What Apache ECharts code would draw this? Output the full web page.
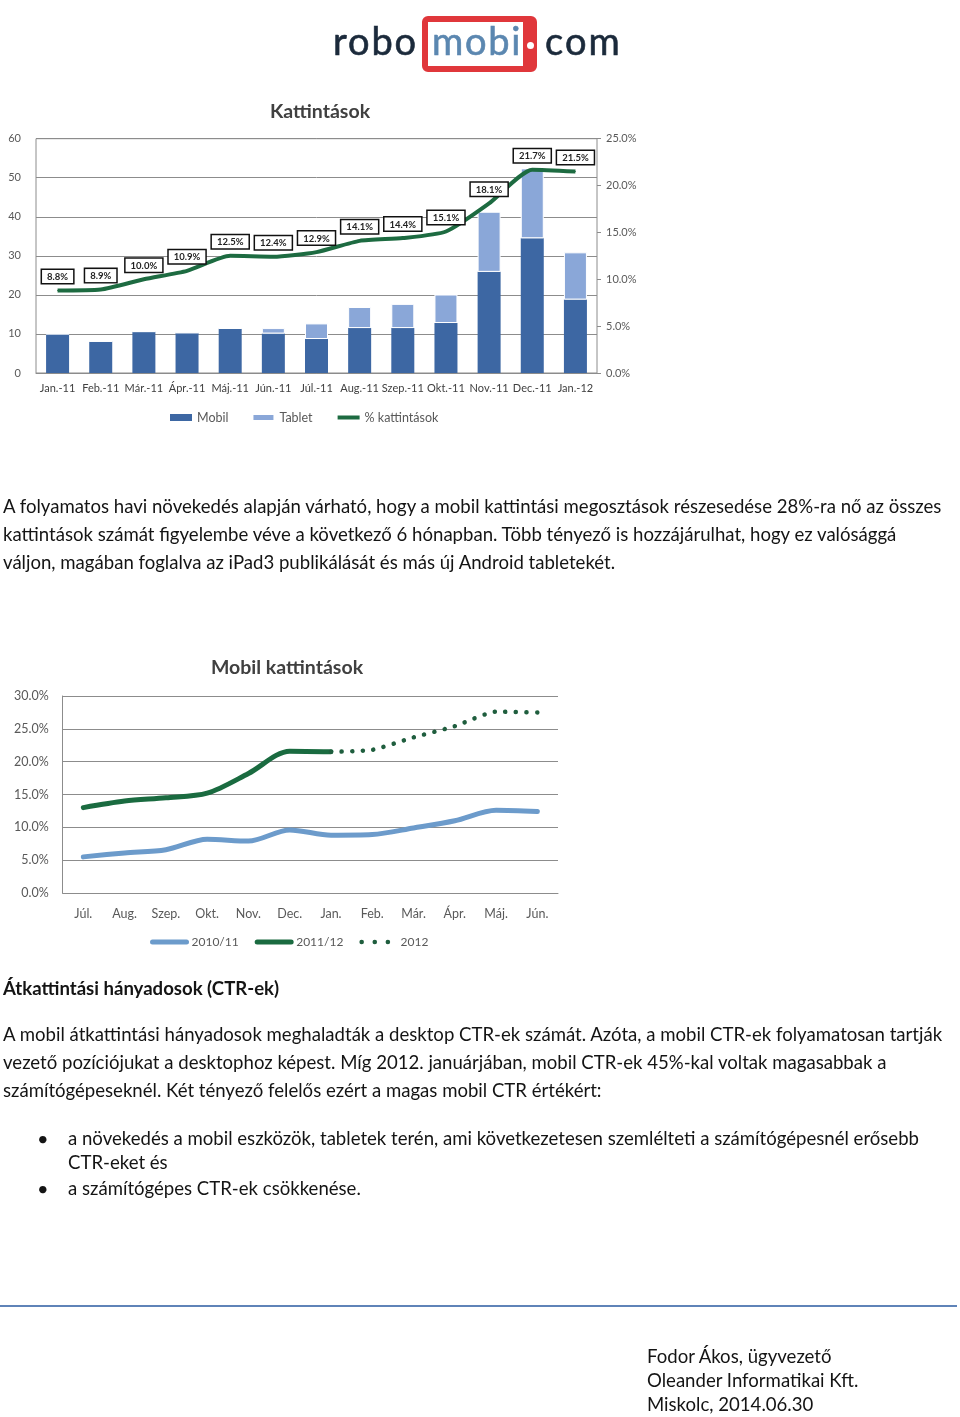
<!DOCTYPE html>
<html><head><meta charset="utf-8">
<script src="https://cdn.jsdelivr.net/npm/echarts@6/dist/echarts.min.js"></script>
<style>
body{margin:0;background:#fff;}
#page{position:relative;width:960px;height:1417px;overflow:hidden;background:#fff;font-family:Lato,'Open Sans',sans-serif;}
#chart{position:absolute;left:0;top:0;width:960px;height:1417px;}
.t{position:absolute;white-space:pre;color:#141414;line-height:24px;height:24px;}
.logo{position:absolute;white-space:pre;font-family:Lato,sans-serif;font-size:38px;line-height:38px;-webkit-text-stroke:0.6px currentColor;}
</style></head>
<body><div id="page"><div id="chart"></div></div>
<script>
// ---- Chart 1: Kattintások ----
const months1 = ['Jan.-11','Feb.-11','Már.-11','Ápr.-11','Máj.-11','Jún.-11','Júl.-11','Aug.-11','Szep.-11','Okt.-11','Nov.-11','Dec.-11','Jan.-12'];
const mobilClicks = [10.0, 8.1, 10.6, 10.3, 11.4, 10.1, 8.7, 11.5, 11.5, 12.8, 25.9, 34.5, 18.8];
const tabletClicks = [0, 0, 0, 0, 0, 1.4, 4.0, 5.4, 6.2, 7.3, 15.4, 17.9, 12.1];
const clickSharePct = [8.8, 8.9, 10.0, 10.9, 12.5, 12.4, 12.9, 14.1, 14.4, 15.1, 18.1, 21.7, 21.5];

// ---- Chart 2: Mobil kattintások ----
const months2 = ['Júl.','Aug.','Szep.','Okt.','Nov.','Dec.','Jan.','Feb.','Már.','Ápr.','Máj.','Jún.'];
const share1011 = [5.5, 6.1, 6.6, 8.2, 7.9, 9.6, 8.8, 8.9, 9.9, 11.0, 12.6, 12.4];
const share1112 = [13.0, 14.0, 14.5, 15.2, 18.2, 21.6, 21.5, null, null, null, null, null];
const share2012 = [null, null, null, null, null, null, 21.5, 21.8, 23.7, 25.4, 27.6, 27.5];

// ---- page text ----
const para1 = [
 'A folyamatos havi növekedés alapján várható, hogy a mobil kattintási megosztások részesedése 28%-ra nő az összes',
 'kattintások számát figyelembe véve a következő 6 hónapban. Több tényező is hozzájárulhat, hogy ez valósággá',
 'váljon, magában foglalva az iPad3 publikálását és más új Android tabletekét.'
];
const heading = 'Átkattintási hányadosok (CTR-ek)';
const para2 = [
 'A mobil átkattintási hányadosok meghaladták a desktop CTR-ek számát. Azóta, a mobil CTR-ek folyamatosan tartják',
 'vezető pozíciójukat a desktophoz képest. Míg 2012. januárjában, mobil CTR-ek 45%-kal voltak magasabbak a',
 'számítógépeseknél. Két tényező felelős ezért a magas mobil CTR értékért:'
];
const bullet1 = ['a növekedés a mobil eszközök, tabletek terén, ami következetesen szemlélteti a számítógépesnél erősebb', 'CTR-eket és'];
const bullet2 = 'a számítógépes CTR-ek csökkenése.';
const signature = ['Fodor Ákos, ügyvezető', 'Oleander Informatikai Kft.', 'Miskolc, 2014.06.30'];

const page = document.getElementById('page');
const ctx = document.createElement('canvas').getContext('2d');
ctx.font = '100px Lato';
const fs = 941 / ctx.measureText(para1[0]).width * 100;

function line(text, x, cy, opts) {
  opts = opts || {};
  const d = document.createElement('div');
  d.className = 't';
  d.textContent = text;
  d.style.left = x + 'px';
  d.style.top = (cy - 12) + 'px';
  d.style.fontSize = (opts.size || fs) + 'px';
  if (opts.bold) d.style.fontWeight = 'bold';
  page.appendChild(d);
  return d;
}
para1.forEach((s, i) => line(s, 3, 506 + i * 28));
line(heading, 3, 988, {bold: true});
para2.forEach((s, i) => line(s, 3, 1034 + i * 28));
line('•', 37, 1138, {size: 20});
line('•', 37, 1188, {size: 20});
line(bullet1[0], 68, 1138);
line(bullet1[1], 68, 1162);
line(bullet2, 68, 1188);
signature.forEach((s, i) => line(s, 647, 1356 + i * 24));

const hr = document.createElement('div');
hr.style.cssText = 'position:absolute;left:0;top:1305px;width:957px;height:2px;background:#5f83b8;';
page.appendChild(hr);

// ---- logo ----
const box = document.createElement('div');
box.style.cssText = 'position:absolute;left:422px;top:16px;width:115px;height:56px;box-sizing:border-box;border:6px solid #e0373b;border-right-width:14px;border-radius:6px;';
page.appendChild(box);
const dot = document.createElement('div');
dot.style.cssText = 'position:absolute;left:527px;top:42px;width:7px;height:7px;border-radius:50%;background:#fff;';
page.appendChild(dot);
function logoWord(text, x, w, color) {
  const d = document.createElement('div');
  d.className = 'logo';
  d.textContent = text;
  d.style.left = x + 'px';
  d.style.top = (55 - 0.887 * 38) + 'px';
  d.style.color = color;
  ctx.font = '38px Lato';
  const nat = ctx.measureText(text).width;
  d.style.letterSpacing = ((w - nat) / text.length) + 'px';
  page.appendChild(d);
}
logoWord('robo', 333, 85, '#1b2a3b');
logoWord('mobi', 432, 90, '#5b87b0');
logoWord('com', 545, 77, '#1b2a3b');

// ---- charts ----
const grey = '#8c8c8c';
const txt = '#595959';
const pct1 = v => v.toFixed(1) + '%';
const chart = echarts.init(document.getElementById('chart'), null, {renderer: 'canvas'});
chart.setOption({
  animation: false,
  textStyle: {fontFamily: 'Lato'},
  title: [
    {text: 'Kattintások', left: 315, top: 97, textAlign: 'center',
     textStyle: {fontSize: 19.5, fontWeight: 'bold', color: '#404040', fontFamily: 'Lato'}},
    {text: 'Mobil kattintások', left: 282, top: 653, textAlign: 'center',
     textStyle: {fontSize: 19.5, fontWeight: 'bold', color: '#404040', fontFamily: 'Lato'}}
  ],
  legend: [
    {data: [{name: 'Mobil', icon: 'rect'}, {name: 'Tablet', icon: 'rect'},
            {name: '% kattintások', itemStyle: {opacity: 0}, lineStyle: {width: 4}}],
     left: 165, top: 406, itemWidth: 22, itemHeight: 7, itemGap: 23,
     textStyle: {fontSize: 12.5, color: txt, fontFamily: 'Lato'}},
    {data: [{name: '2010/11', itemStyle: {opacity: 0}, lineStyle: {width: 5}},
            {name: '2011/12', itemStyle: {opacity: 0}, lineStyle: {width: 5}},
            {name: '2012', itemStyle: {opacity: 0}, lineStyle: {width: 4.5, type: [0.1, 13], cap: 'round'}}],
     left: 145, top: 931, itemWidth: 34, itemHeight: 8, itemGap: 16,
     textStyle: {fontSize: 12, color: txt, fontFamily: 'Lato'}}
  ],
  grid: [
    {left: 36, top: 138.7, width: 561, height: 234.3, show: true, borderColor: grey, borderWidth: 1},
    {left: 62.7, top: 696, width: 495.3, height: 197}
  ],
  xAxis: [
    {gridIndex: 0, type: 'category', data: months1,
     axisLine: {show: true, lineStyle: {color: grey}}, axisTick: {show: false},
     axisLabel: {color: '#404040', fontSize: 11, margin: 10, interval: 0}},
    {gridIndex: 1, type: 'category', data: months2,
     axisLine: {show: true, lineStyle: {color: grey}}, axisTick: {show: false},
     axisLabel: {color: txt, fontSize: 12.5, margin: 14, interval: 0}}
  ],
  yAxis: [
    {gridIndex: 0, type: 'value', min: 0, max: 60, interval: 10, position: 'left',
     axisLine: {show: false}, axisTick: {show: false},
     splitLine: {lineStyle: {color: grey}},
     axisLabel: {color: txt, fontSize: 11, margin: 15}},
    {gridIndex: 0, type: 'value', min: 0, max: 25, interval: 5, position: 'right',
     axisLine: {show: false}, axisTick: {show: true, length: 4, lineStyle: {color: grey}},
     splitLine: {show: false},
     axisLabel: {color: txt, fontSize: 11, margin: 9, formatter: pct1}},
    {gridIndex: 1, type: 'value', min: 0, max: 30, interval: 5,
     axisLine: {show: true, lineStyle: {color: grey}}, axisTick: {show: false},
     splitLine: {lineStyle: {color: grey}},
     axisLabel: {color: txt, fontSize: 12.5, margin: 14, formatter: pct1}}
  ],
  series: [
    {name: 'Mobil', type: 'bar', stack: 'k', xAxisIndex: 0, yAxisIndex: 0, barWidth: 23,
     data: mobilClicks, itemStyle: {color: '#3d67a3'}},
    {name: 'Tablet', type: 'bar', stack: 'k', xAxisIndex: 0, yAxisIndex: 0, barWidth: 23,
     data: tabletClicks, itemStyle: {color: '#8aa7d8', borderColor: '#fff', borderWidth: 1}},
    {name: '% kattintások', type: 'line', xAxisIndex: 0, yAxisIndex: 1, data: clickSharePct,
     smooth: 0.2, symbol: 'circle', symbolSize: 1, showSymbol: true,
     itemStyle: {color: '#1d6b41'}, lineStyle: {color: '#1d6b41', width: 4}, z: 5,
     label: {show: true, position: 'top', distance: 7, formatter: p => p.value.toFixed(1) + '%',
       fontSize: 9.5, fontWeight: 'bold', color: '#222', fontFamily: 'Lato',
       backgroundColor: '#fff', borderColor: '#111', borderWidth: 1.5, padding: [2, 5, 1, 5]}},
    {name: '2010/11', type: 'line', xAxisIndex: 1, yAxisIndex: 2, data: share1011,
     smooth: 0.3, symbol: 'none', itemStyle: {color: '#6c9bcb'},
     lineStyle: {color: '#6c9bcb', width: 5, cap: 'round'}},
    {name: '2011/12', type: 'line', xAxisIndex: 1, yAxisIndex: 2, data: share1112,
     smooth: 0.3, symbol: 'none', itemStyle: {color: '#1a6b40'},
     lineStyle: {color: '#1a6b40', width: 5, cap: 'round'}},
    {name: '2012', type: 'line', xAxisIndex: 1, yAxisIndex: 2, data: share2012,
     smooth: 0.2, symbol: 'none', itemStyle: {color: '#1f5e3e'},
     lineStyle: {color: '#1f5e3e', width: 4.5, type: [0.1, 10.5], cap: 'round'}}
  ]
});
</script>
</body></html>
